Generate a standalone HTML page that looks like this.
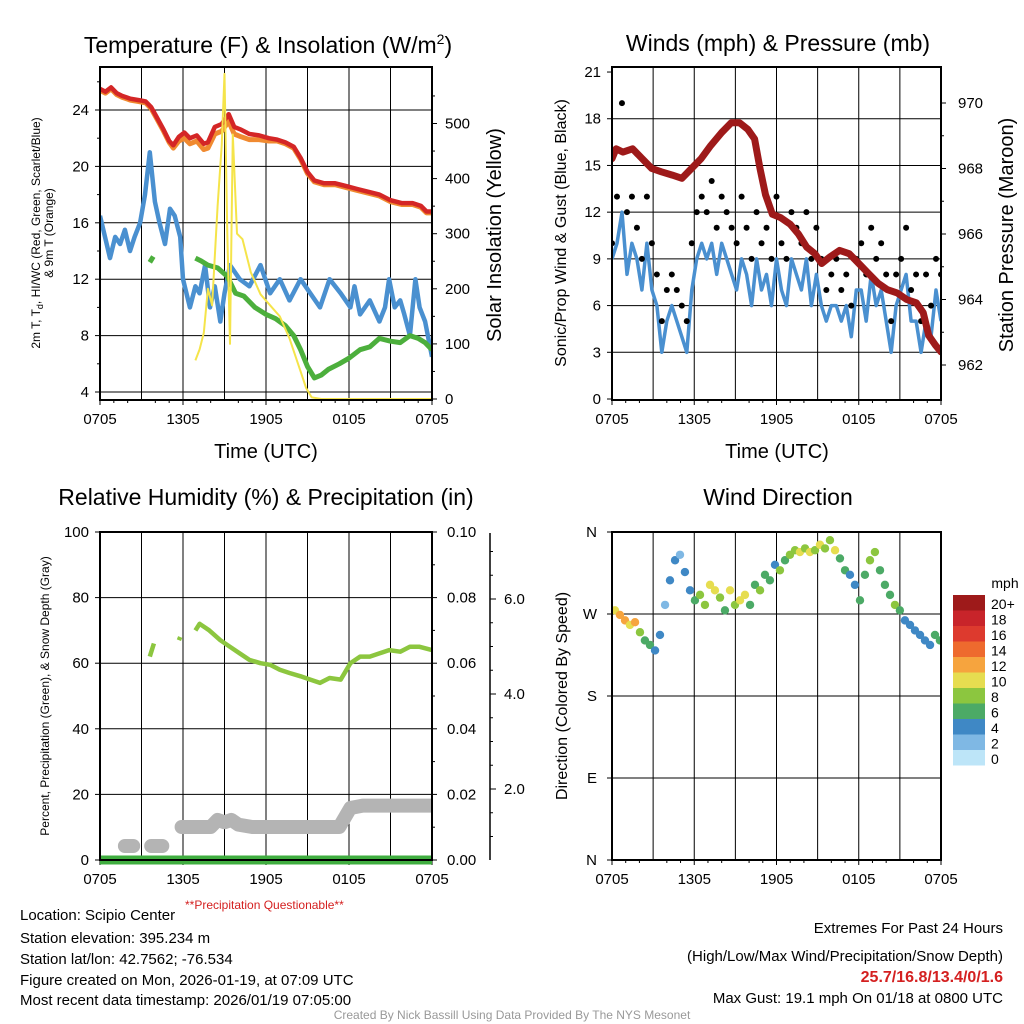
<!DOCTYPE html>
<html><head><meta charset="utf-8">
<style>
html,body{margin:0;padding:0;background:#fff;}
svg{display:block;font-family:"Liberation Sans",Arial,sans-serif;}
</style></head>
<body>
<svg id="root" width="1024" height="1024" viewBox="0 0 1024 1024" xmlns="http://www.w3.org/2000/svg">
<rect x="0" y="0" width="1024" height="1024" fill="#fff"/>
<text x="268" y="53" font-size="23" text-anchor="middle">Temperature (F) &amp; Insolation (W/m<tspan dy="-9" font-size="14">2</tspan><tspan dy="9">)</tspan></text>
<text x="778" y="51" font-size="23" text-anchor="middle">Winds (mph) &amp; Pressure (mb)</text>
<text x="266" y="505" font-size="23" text-anchor="middle">Relative Humidity (%) &amp; Precipitation (in)</text>
<text x="778" y="505" font-size="23" text-anchor="middle">Wind Direction</text>
<g id="layer"></g>
<text x="20" y="920" font-size="15">Location: Scipio Center</text>
<text x="185" y="909" font-size="12" fill="#d42020">**Precipitation Questionable**</text>
<text x="20" y="943" font-size="15">Station elevation: 395.234 m</text>
<text x="20" y="964" font-size="15">Station lat/lon: 42.7562; -76.534</text>
<text x="20" y="985" font-size="15">Figure created on Mon, 2026-01-19, at 07:09 UTC</text>
<text x="20" y="1005" font-size="15">Most recent data timestamp: 2026/01/19 07:05:00</text>
<text x="1003" y="933" font-size="15" text-anchor="end">Extremes For Past 24 Hours</text>
<text x="1003" y="961" font-size="15" text-anchor="end">(High/Low/Max Wind/Precipitation/Snow Depth)</text>
<text x="1003" y="982" font-size="16" font-weight="bold" fill="#d42020" text-anchor="end">25.7/16.8/13.4/0/1.6</text>
<text x="1003" y="1003" font-size="15" text-anchor="end">Max Gust: 19.1 mph On 01/18 at 0800 UTC</text>
<text x="512" y="1019" font-size="12" fill="#999" text-anchor="middle">Created By Nick Bassill Using Data Provided By The NYS Mesonet</text>
</svg>
<script>
// ---------- data ----------
const xTickLabels = ["0705","1305","1905","0105","0705"];
const tempLeftTicks = [4,8,12,16,20,24];
const insolTicks = [0,100,200,300,400,500];
const windTicks = [0,3,6,9,12,15,18,21];
const pressTicks = [962,964,966,968,970];
const rhTicks = [0,20,40,60,80,100];
const precipTicks = ["0.00","0.02","0.04","0.06","0.08","0.10"];
const snowTicks = ["2.0","4.0","6.0"];
const dirTicks = ["N","W","S","E","N"];
const speedBins = ["0","2","4","6","8","10","12","14","16","18","20+"];

const tempHours = [0,0.4,0.8,1.2,1.6,2.2,2.8,3.3,3.7,4.1,4.6,5.0,5.3,5.7,6.1,6.5,7.0,7.5,7.8,8.3,8.8,9.3,9.7,10.2,10.8,11.5,12.2,12.8,13.4,14.0,14.5,15.0,15.5,16.2,17.0,17.8,18.6,19.4,20.2,21.0,21.8,22.6,23.2,23.6,24];
const temp2m = [25.5,25.3,25.6,25.2,25.0,24.8,24.7,24.6,24.2,23.5,22.6,21.8,21.5,22.1,22.4,22.0,22.2,21.6,21.7,22.8,23.0,23.7,22.8,22.6,22.3,22.2,22.0,21.9,21.7,21.4,20.6,19.6,19.0,18.8,18.8,18.6,18.4,18.2,18.0,17.6,17.4,17.4,17.2,16.8,16.8];
const temp9m = [25.4,25.2,25.5,25.1,24.9,24.7,24.6,24.5,24.1,23.4,22.5,21.7,21.3,21.8,22.0,21.6,21.8,21.2,21.3,22.3,22.5,23.2,22.3,22.1,21.9,21.9,21.8,21.8,21.6,21.3,20.5,19.5,18.9,18.7,18.7,18.5,18.3,18.1,17.9,17.5,17.3,17.3,17.1,16.7,16.7];
const hiwcHours = [0,0.36,0.72,1.1,1.45,1.8,2.17,2.5,2.9,3.25,3.6,3.97,4.3,4.7,5.06,5.4,5.8,6.0,6.5,6.9,7.2,7.6,7.95,8.3,8.7,9.0,9.4,10.1,10.8,11.6,12.3,13.0,13.7,14.5,15.2,15.9,16.6,17.4,18.1,18.4,18.8,19.5,20.2,20.6,20.9,21.3,21.7,22.0,22.4,22.8,23.1,23.5,24];
const hiwc = [16.5,15,13.5,15,14.5,15.5,14,15,16,18,21,17.5,16,14.5,17,16.5,15,12,10,11.5,11,13,10,11.5,9,11,13,12,11.5,13,11,12,10.5,12,11,10,12,11,10,11.5,9.5,10.5,9,10,12,10,10.5,9.5,8,12,10,9,6.5];
const dewHours = [3.6,3.85,null,6.9,7.3,7.8,8.5,9.2,9.8,10.4,11.2,12.0,12.7,13.4,14.0,14.5,15.0,15.5,16.0,16.5,17.3,18.0,18.8,19.5,20.2,21.0,21.7,22.4,23.0,23.5,24];
const dew = [13.2,13.6,null,13.5,13.3,13,12.8,12.2,11,10.8,10,9.5,9.2,8.7,8.0,7.0,5.8,5.0,5.2,5.6,6.0,6.4,7.0,7.2,7.8,7.6,7.5,8.0,7.8,7.5,7.0];
const solHours = [6.9,7.2,7.5,7.8,8.1,8.5,8.8,9.0,9.2,9.4,9.6,9.9,10.3,10.9,11.6,12.3,13.0,13.7,14.5,14.9,15.3,16,24];
const solar = [70,90,120,200,170,350,460,590,300,100,480,300,290,230,190,170,150,110,50,20,3,0,0];

const windSpeed = [9,10,12,8,10,9,7,10,7,6,3,5,6,5,4,3,7,9,10,9,10,8,10,9,8,7,9,8,6,9,7,8,6,9,7,6,9,8,7,9,6,8,6,5,6,6,5,6,4,7,7,5,8,6,7,5,3,6,7,8,5,5,3,5,4,7,5];
const windGust = [10,13,19,12,13,11,9,13,10,8,5,7,8,7,6,5,10,12,13,12,14,11,13,12,11,10,13,11,9,12,10,11,9,13,10,9,12,11,10,12,9,11,9,7,8,9,7,8,6,9,10,8,11,9,10,8,5,8,9,11,7,8,5,8,6,9,8];
const pressHours = [0,0.3,0.8,1.5,2.2,2.9,3.6,4.4,5.1,5.8,6.5,7.2,8.0,8.7,9.3,9.9,10.4,10.8,11.2,11.7,12.3,13.0,13.6,14.2,14.8,15.3,15.9,16.6,17.3,18.0,18.7,19.4,20.1,20.8,21.5,22.2,22.7,23.1,23.6,24];
const pressure = [968.3,968.6,968.5,968.6,968.3,968.0,967.9,967.8,967.7,968.0,968.3,968.7,969.1,969.4,969.4,969.2,968.9,968.0,967.2,966.6,966.5,966.3,966.0,965.6,965.4,965.1,965.3,965.5,965.4,965.1,964.8,964.5,964.3,964.2,964.0,963.9,963.6,962.9,962.6,962.4];

const rhHours = [3.6,3.9,null,5.7,5.8,null,6.9,7.2,7.9,8.7,9.4,10.1,10.8,11.6,12.3,13.0,13.7,14.5,15.2,15.9,16.6,17.4,18.1,18.8,19.5,20.2,20.9,21.7,22.4,23.1,24];
const rh = [62,66,null,67,68,null,70,72,70,67,65,63,61,60,59.5,58,57,56,55,54,55.5,55,60,62,62,63,64,63.5,65,65,64];
const snowHours = [1.8,2.4,null,3.7,4.5,null,5.9,8,8.5,9,9.5,10,11,17.3,18.1,19,24];
const snow = [0.8,0.8,null,0.8,0.8,null,1.2,1.2,1.35,1.3,1.35,1.25,1.2,1.2,1.6,1.65,1.65];
const precipHours = [0,24];
const precip = [0,0];

const dirHours = [0.22,0.58,0.95,1.31,1.68,2.04,2.4,2.77,3.14,3.5,3.87,4.23,4.6,4.96,5.32,5.69,6.05,6.42,6.78,7.15,7.51,7.88,8.24,8.61,8.97,9.34,9.7,10.07,10.43,10.8,11.16,11.52,11.89,12.25,12.62,12.98,13.35,13.71,14.08,14.44,14.81,15.17,15.54,15.9,16.27,16.63,17.0,17.36,17.72,18.09,18.45,18.82,19.18,19.55,19.91,20.28,20.64,21.0,21.37,21.74,22.1,22.47,22.83,23.2,23.56,23.92];
const dirDeg = [274,269,263,258,261,250,241,236,230,247,280,307,329,335,316,296,285,291,280,302,296,288,274,296,280,285,291,280,302,296,313,307,324,318,329,335,340,338,342,338,340,346,342,351,340,331,318,313,302,285,313,329,338,318,302,291,280,274,263,258,252,247,241,236,247,241];
const dirSpeed = [9,11,12,10,11,8,5,6,4,3,2,4,3,2,4,3,6,7,8,9,10,7,6,9,7,10,9,5,6,7,5,6,4,7,6,8,8,9,7,10,8,9,8,7,9,6,5,4,4,5,6,7,8,6,5,6,7,5,4,3,4,4,3,4,5,6];

// ---------- helpers ----------
const NS="http://www.w3.org/2000/svg";
const layer=document.getElementById('layer');
function mk(tag,attrs,parent){const e=document.createElementNS(NS,tag);for(const k in attrs)e.setAttribute(k,attrs[k]);(parent||layer).appendChild(e);return e;}
function txt(x,y,s,size,anchor,parent){const t=mk('text',{x:x,y:y,'font-size':size,'text-anchor':anchor||'middle'},parent);t.textContent=s;return t;}
function pathFrom(hs,vs,fx,fy){let d='',pen=false;for(let i=0;i<hs.length;i++){if(hs[i]===null||vs[i]===null){pen=false;continue;}d+=(pen?'L':'M')+fx(hs[i]).toFixed(1)+','+fy(vs[i]).toFixed(1);pen=true;}return d;}
function clip(id,x,y,w,h){const cp=mk('clipPath',{id:id});mk('rect',{x:x,y:y,width:w,height:h},cp);}

function frame(name,x0,y0,x1,y1){
  const g=mk('g',{});
  
  
  for(let i=1;i<8;i++){const x=x0+(x1-x0)*i/8;mk('line',{x1:x,y1:y0,x2:x,y2:y1,stroke:'#000','stroke-width':1},g);}
  for(let i=0;i<xTickLabels.length;i++){const x=x0+(x1-x0)*i/4;const t=txt(x,y1+24,xTickLabels[i],15,'middle');
    
    
    mk('line',{x1:x,y1:y1,x2:x,y2:y1+5,stroke:'#000'});}
  for(let i=0;i<=24;i++){if(i%3===0)continue;const x=x0+(x1-x0)*i/24;mk('line',{x1:x,y1:y1,x2:x,y2:y1+3,stroke:'#000'});}
  return g;
}
function border(x0,y0,x1,y1){mk('rect',{x:x0,y:y0,width:x1-x0,height:y1-y0,fill:'none',stroke:'#000','stroke-width':2});}

// ---------- Panel 1: Temperature ----------
(function(){
  const X0=100,X1=432,Y0=67,Y1=400;
  const fx=h=>X0+h*(X1-X0)/24;
  const fy=v=>392-(v-4)*14.1;
  const fr=v=>399-v*0.551;
  frame('temperature',X0,Y0,X1,Y1);
  tempLeftTicks.forEach(v=>{const y=fy(v);mk('line',{x1:X0,y1:y,x2:X1,y2:y,stroke:'#000'});mk('line',{x1:X0-5,y1:y,x2:X0,y2:y,stroke:'#000'});
    const t=txt(X0-11,y+5,String(v),15,'end');
    
    });
  for(let v=6;v<27;v+=4){const y=fy(v);mk('line',{x1:X0-3,y1:y,x2:X0,y2:y,stroke:'#000'});}
  insolTicks.forEach(v=>{const y=fr(v);mk('line',{x1:X1,y1:y,x2:X1+5,y2:y,stroke:'#000'});
    const t=txt(X1+13,y+5,String(v),15,'start');
    
    });
  for(let v=50;v<600;v+=100){const y=fr(v);mk('line',{x1:X1,y1:y,x2:X1+3,y2:y,stroke:'#000'});}
  clip('c1',X0,Y0,X1-X0,Y1-Y0);
  const g=mk('g',{'clip-path':'url(#c1)'});
  const s1=mk('path',{d:pathFrom(hiwcHours,hiwc,fx,fy),fill:'none',stroke:'#4a90d0','stroke-width':4.5,'stroke-linejoin':'round'},g);
  
  
  const s2=mk('path',{d:pathFrom(dewHours,dew,fx,fy),fill:'none',stroke:'#4caf3c','stroke-width':5,'stroke-linejoin':'round'},g);
  
  
  const s4=mk('path',{d:pathFrom(tempHours,temp9m,fx,fy),fill:'none',stroke:'#f08a30','stroke-width':5,'stroke-linejoin':'round'},g);
  
  
  const s5=mk('path',{d:pathFrom(tempHours,temp2m,fx,fy),fill:'none',stroke:'#d42626','stroke-width':4.5,'stroke-linejoin':'round'},g);
  
  
  const s6=mk('path',{d:pathFrom(solHours,solar,fx,fr),fill:'none',stroke:'#f5e44a','stroke-width':2,'stroke-linejoin':'round'},g);
  
  
  border(X0,Y0,X1,Y1);
  const t1=txt(266,458,'Time (UTC)',20,'middle');
  
  
  const yl=mk('text',{transform:'translate(40,233) rotate(-90)','font-size':12,'text-anchor':'middle'});
  yl.innerHTML='2m T, T<tspan dy="3" font-size="9">d</tspan><tspan dy="-3">, HI/WC (Red, Green, Scarlet/Blue)</tspan>';
  
  
  const yl2=mk('text',{transform:'translate(53,233) rotate(-90)','font-size':12,'text-anchor':'middle'});
  yl2.textContent='& 9m T (Orange)';
  
  
  const yr=mk('text',{transform:'translate(501,235) rotate(-90)','font-size':20,'text-anchor':'middle'});
  yr.textContent='Solar Insolation (Yellow)';
  
  
})();

// ---------- Panel 2: Winds ----------
(function(){
  const X0=612,X1=941,Y0=67,Y1=400;
  const fx=h=>X0+h*(X1-X0)/24;
  const fy=v=>399-v*15.57;
  const fp=v=>365-(v-962)*32.75;
  frame('winds',X0,Y0,X1,Y1);
  windTicks.forEach(v=>{const y=fy(v);if(v>0&&v<21)mk('line',{x1:X0,y1:y,x2:X1,y2:y,stroke:'#000'});mk('line',{x1:X0-5,y1:y,x2:X0,y2:y,stroke:'#000'});
    const t=txt(X0-11,y+5,String(v),15,'end');
    
    });
  pressTicks.forEach(v=>{const y=fp(v);mk('line',{x1:X1,y1:y,x2:X1+5,y2:y,stroke:'#000'});
    const t=txt(X1+17,y+5,String(v),15,'start');
    
    });
  for(let v=963;v<971;v+=2){const y=fp(v);mk('line',{x1:X1,y1:y,x2:X1+3,y2:y,stroke:'#000'});}
  clip('c2',X0,Y0,X1-X0,Y1-Y0);
  const g=mk('g',{'clip-path':'url(#c2)'});
  const hrs=windSpeed.map((v,i)=>i*24/(windSpeed.length-1));
  const ws=mk('path',{d:pathFrom(hrs,windSpeed,fx,fy),fill:'none',stroke:'#4a90d0','stroke-width':3.5,'stroke-linejoin':'round'},g);
  
  
  windGust.forEach((v,i)=>{const c=mk('circle',{cx:fx(hrs[i]),cy:fy(v),r:3,fill:'#000'},g);
    
    });
  const pr=mk('path',{d:pathFrom(pressHours,pressure,fx,fp),fill:'none',stroke:'#9e1a1a','stroke-width':7,'stroke-linejoin':'round','stroke-linecap':'round'},g);
  
  
  border(X0,Y0,X1,Y1);
  const t1=txt(777,458,'Time (UTC)',20,'middle');
  
  
  const yl=mk('text',{transform:'translate(566,233) rotate(-90)','font-size':16,'text-anchor':'middle'});
  yl.textContent='Sonic/Prop Wind & Gust (Blue, Black)';
  
  
  const yr=mk('text',{transform:'translate(1013,235) rotate(-90)','font-size':20,'text-anchor':'middle'});
  yr.textContent='Station Pressure (Maroon)';
  
  
})();

// ---------- Panel 3: RH ----------
(function(){
  const X0=100,X1=432,Y0=532,Y1=860;
  const fx=h=>X0+h*(X1-X0)/24;
  const fy=v=>860-v*3.28;
  const fs=v=>884-v*47.5;
  frame('humidity',X0,Y0,X1,Y1);
  rhTicks.forEach((v,i)=>{const y=fy(v);if(v>0&&v<100)mk('line',{x1:X0,y1:y,x2:X1,y2:y,stroke:'#000'});mk('line',{x1:X0-5,y1:y,x2:X0,y2:y,stroke:'#000'});
    const t=txt(X0-11,y+5,String(v),15,'end');
    
    
    mk('line',{x1:X1,y1:y,x2:X1+5,y2:y,stroke:'#000'});
    const t2=txt(X1+15,y+5,precipTicks[i],15,'start');
    
    });
  for(let v=10;v<100;v+=20){mk('line',{x1:X1,y1:fy(v),x2:X1+3,y2:fy(v),stroke:'#000'});}
  mk('line',{x1:490,y1:533,x2:490,y2:860,stroke:'#000','stroke-width':1.5});
  snowTicks.forEach(s=>{const y=fs(parseFloat(s));mk('line',{x1:490,y1:y,x2:496,y2:y,stroke:'#000'});
    const t=txt(504,y+5,s,15,'start');
    
    });
  for(let v=1;v<7.3;v+=0.5){if(v%2===0)continue;mk('line',{x1:490,y1:fs(v),x2:493,y2:fs(v),stroke:'#000'});}
  clip('c3',X0,Y0,X1-X0,Y1-Y0+8);
  const g=mk('g',{'clip-path':'url(#c3)'});
  const sd=mk('path',{d:pathFrom(snowHours,snow,fx,fs),fill:'none',stroke:'#b4b4b4','stroke-width':14,'stroke-linejoin':'round','stroke-linecap':'round'},g);
  
  
  const pp=mk('path',{d:pathFrom(precipHours,precip,fx,v=>860-v*3280),fill:'none',stroke:'#3fad3f','stroke-width':9},g);
  
  
  const r=mk('path',{d:pathFrom(rhHours,rh,fx,fy),fill:'none',stroke:'#8cc63f','stroke-width':4.5,'stroke-linejoin':'round'},g);
  
  
  border(X0,Y0,X1,Y1);
  const yl=mk('text',{transform:'translate(49,696) rotate(-90)','font-size':12,'text-anchor':'middle'});
  yl.textContent='Percent, Precipitation (Green), & Snow Depth (Gray)';
  
  
})();

// ---------- Panel 4: Wind direction ----------
(function(){
  const X0=612,X1=941,Y0=532,Y1=860;
  const fx=h=>X0+h*(X1-X0)/24;
  const fy=d=>860-d*0.9111;
  const colors=['#bde5f8','#7fb8e4','#3f88c5','#4caa66','#8cc63f','#e6dd50','#f6a43e','#ee6a2e','#dd3a2e','#c8242a','#9e1a1a'];
  frame('wind-direction',X0,Y0,X1,Y1);
  dirTicks.forEach((s,i)=>{const y=Y0+(Y1-Y0)*i/4;if(i>0&&i<4)mk('line',{x1:X0,y1:y,x2:X1,y2:y,stroke:'#000'});mk('line',{x1:X0-5,y1:y,x2:X0,y2:y,stroke:'#000'});
    const t=txt(X0-15,y+5,s,15,'end');
    
    });
  clip('c4',X0,Y0,X1-X0,Y1-Y0);
  const g=mk('g',{'clip-path':'url(#c4)'});
  dirDeg.forEach((d,i)=>{const bin=Math.min(10,Math.floor(dirSpeed[i]/2+0.5));const c=mk('circle',{cx:fx(dirHours[i]),cy:fy(d),r:4.2,fill:colors[bin]},g);
    
    });
  border(X0,Y0,X1,Y1);
  const yl=mk('text',{transform:'translate(567,696) rotate(-90)','font-size':16,'text-anchor':'middle'});
  yl.textContent='Direction (Colored By Speed)';
  
  
  const lg=mk('g',{});
  
  
  const m=txt(1005,588,'mph',14,'middle',lg);
  
  
  const n=speedBins.length,top=595,h=15.5;
  for(let i=0;i<n;i++){const idx=n-1-i;const y=top+i*h;mk('rect',{x:953,y:y,width:32,height:h,fill:colors[idx]},lg);
    const t=txt(991,y+14,speedBins[idx],14,'start',lg);
    
    }
})();
</script>
</body></html>
